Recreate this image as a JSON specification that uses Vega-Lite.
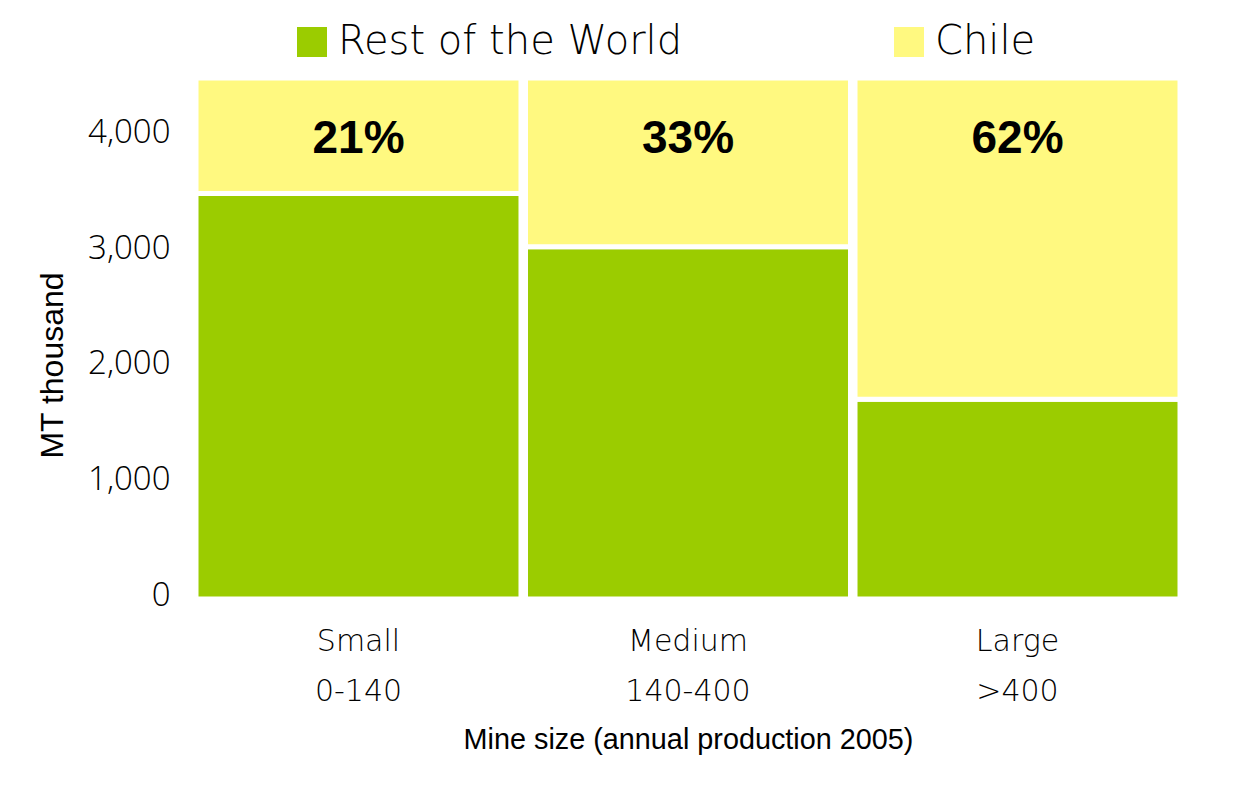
{
  "$schema": "https://vega.github.io/schema/vega-lite/v6.json",
  "width": 984,
  "height": 521,
  "autosize": "none",
  "padding": {"left": 196, "top": 78, "right": 65, "bottom": 195},
  "background": "white",
  "config": {
    "view": {"stroke": null},
    "axis": {"domain": false, "ticks": false, "grid": false, "labelColor": "#000000", "titleColor": "#000000"}
  },
  "data": {
    "values": [
      {"size": "Small|0-140", "region": "Rest of the World", "ord": 1, "value": 3510, "label": ""},
      {"size": "Small|0-140", "region": "Chile", "ord": 2, "value": 1000, "label": "21%"},
      {"size": "Medium|140-400", "region": "Rest of the World", "ord": 1, "value": 3050, "label": ""},
      {"size": "Medium|140-400", "region": "Chile", "ord": 2, "value": 1460, "label": "33%"},
      {"size": "Large|>400", "region": "Rest of the World", "ord": 1, "value": 1730, "label": ""},
      {"size": "Large|>400", "region": "Chile", "ord": 2, "value": 2780, "label": "62%"}
    ]
  },
  "layer": [
    {
      "mark": {"type": "bar", "stroke": "white", "strokeWidth": 5},
      "encoding": {
        "x": {
          "field": "size", "type": "nominal", "sort": null,
          "scale": {"paddingInner": 0.0137, "paddingOuter": 0},
          "axis": {
            "labelExpr": "split(datum.value, '|')",
            "labelAngle": 0,
            "labelFont": "DejaVu Sans",
            "labelFontSize": 30,
            "labelFontWeight": 200,
            "labelLineHeight": 50,
            "labelPadding": 27,
            "title": "Mine size (annual production 2005)",
            "titleFont": "Liberation Sans",
            "titleFontSize": 28.8,
            "titleFontWeight": "normal",
            "titlePadding": 19
          }
        },
        "y": {
          "field": "value", "type": "quantitative", "stack": "zero",
          "scale": {"domain": [0, 4510], "nice": false},
          "axis": {
            "values": [0, 1000, 2000, 3000, 4000],
            "format": ",d",
            "labelFont": "Open Sans",
            "labelFontSize": 33,
            "labelFontWeight": 300,
            "labelPadding": 26,
            "labelOffset": -4,
            "title": "MT thousand",
            "titleFont": "Liberation Sans",
            "titleFontSize": 32,
            "titleFontWeight": "normal",
            "titlePadding": 18,
            "titleY": 287
          }
        },
        "color": {
          "field": "region", "type": "nominal",
          "scale": {"domain": ["Rest of the World", "Chile"], "range": ["#9BCC00", "#FFF980"]},
          "legend": {
            "orient": "none",
            "legendX": 96,
            "legendY": -56,
            "direction": "horizontal",
            "title": null,
            "symbolType": "square",
            "symbolSize": 900,
            "symbolStrokeWidth": 0,
            "symbolOpacity": 1,
            "labelFont": "DejaVu Sans",
            "labelFontSize": 40,
            "labelFontWeight": 200,
            "labelColor": "#000000",
            "labelOffset": 6,
            "labelLimit": 0,
            "columnPadding": 206
          }
        },
        "order": {"field": "ord"}
      }
    },
    {
      "transform": [{"filter": "datum.label != ''"}],
      "mark": {"type": "text", "font": "Liberation Sans", "fontWeight": "bold", "fontSize": 46, "baseline": "middle", "color": "#000000"},
      "encoding": {
        "x": {"field": "size", "type": "nominal", "sort": null},
        "y": {"datum": 3980},
        "text": {"field": "label"}
      }
    }
  ]
}
